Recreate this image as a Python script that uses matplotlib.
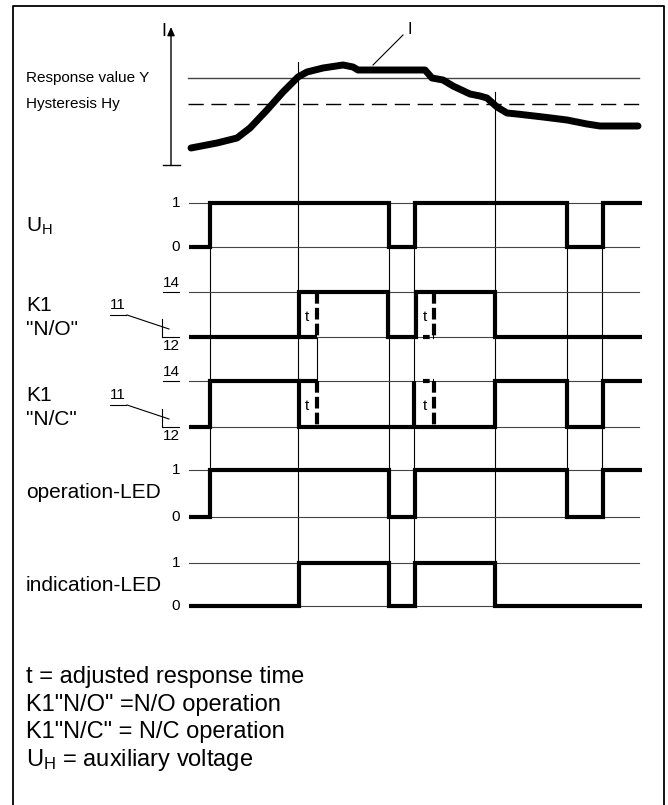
import matplotlib
matplotlib.use("Agg")
import matplotlib.pyplot as plt
from matplotlib import font_manager as fm

# ---------------- font ----------------
def has_font(name):
    try:
        fm.findfont(name, fallback_to_default=False)
        return True
    except Exception:
        return False

FONT = "Liberation Sans" if has_font("Liberation Sans") else "DejaVu Sans"
plt.rcParams["font.family"] = [FONT, "DejaVu Sans"]
plt.rcParams["mathtext.fontset"] = "custom"
plt.rcParams["mathtext.rm"] = FONT

# ---------------- data ----------------
# measured current I (time, value above baseline of the I-axis)
curve_t = [191, 217, 237, 250, 267, 283, 298, 307, 323, 343, 353, 358, 400, 425, 432,
           443, 453, 470, 480, 487, 497, 507, 517, 543, 567, 587, 600, 638]
curve_I = [17, 22, 27, 37, 55, 73, 88, 93, 97, 100, 98, 95, 95, 95, 87,
           85, 79, 71, 69, 67, 58, 52, 51, 48, 45, 41, 39, 39]
response_Y = 87
hysteresis_Hy = 61

t_start, t_end = 189, 642

# switching edges of each signal (value starts at 0 and toggles at each edge)
uh_edges = [210, 389, 415, 567, 603]
no_edges = [299, 388, 416, 495]
nc_edges = [210, 299, 495, 567, 603]
op_edges = [210, 389, 415, 567, 603]
ind_edges = [299, 389, 415, 495]

# adjusted response time t  (start, end of delay)
delay_1 = (299, 317)
delay_2 = (423, 434)
nc_pulse = 414

row_names = ["UH", "NO", "NC", "OP", "IND"]
level_hi = ["1", "14", "14", "1", "1"]
level_lo = ["0", "12", "12", "0", "0"]

legend_lines = ["t = adjusted response time",
                'K1"N/O" =N/O operation',
                'K1"N/C" = N/C operation',
                r"$\mathregular{U_H}$ = auxiliary voltage"]

# ---------------- layout ----------------
W, H = 668, 805
fig = plt.figure(figsize=(W / 100, H / 100), dpi=100)
ax = fig.add_axes([0, 0, 1, 1])
ax.set_xlim(0, W)
ax.set_ylim(H, 0)
ax.axis("off")

row_top = [203, 292, 381, 470, 563]
row_bot = [247, 337, 427, 517, 606]
I_base = 165
THICK = 3.0
THIN = 0.8
GRAY = "#444444"
lvl_x0, lvl_x1 = 189, 639


def ypos(row, v):
    return row_bot[row] - v * (row_bot[row] - row_top[row])


def step(edges):
    xs, vs = [t_start], [0]
    v = 0
    for e in edges:
        xs += [e, e]
        vs += [v, 1 - v]
        v = 1 - v
    xs.append(t_end)
    vs.append(v)
    return xs, vs


# border
ax.plot([13, 13, 664, 664], [H, 6, 6, H], color="black", lw=1.3, solid_capstyle="butt")

# ---------- top panel: current ----------
ax.annotate("", xy=(171, 27), xytext=(171, I_base),
            arrowprops=dict(arrowstyle="-|>,head_length=0.5,head_width=0.22",
                            color="black", lw=1.0, shrinkA=0, shrinkB=0))
ax.plot([163, 180], [I_base, I_base], color="black", lw=1.0)
ax.text(164, 32, "I", fontsize=13, ha="center", va="center")
ax.plot([188, 639], [I_base - response_Y] * 2, color=GRAY, lw=1.0)
ax.plot([188, 639], [I_base - hysteresis_Hy] * 2, color="black", lw=1.0,
        dashes=(11, 5.5))
ax.text(26, I_base - response_Y, "Response value Y", fontsize=11, va="center")
ax.text(26, I_base - hysteresis_Hy, "Hysteresis Hy", fontsize=11, va="center")
ax.plot(curve_t, [I_base - v for v in curve_I], color="black", lw=5.0,
        solid_capstyle="round", solid_joinstyle="round")
ax.plot([373, 403], [65, 35], color="black", lw=0.8)
ax.text(410, 29, "I", fontsize=12, ha="center", va="center")

# ---------- guide lines ----------
guides = [(210, row_bot[0], row_top[3]),
          (298, 62, row_top[4]),
          (317, row_bot[1], row_top[2]),
          (389, row_bot[0], row_top[4]),
          (414, row_bot[0], row_top[4]),
          (495, 92, row_top[4]),
          (567, row_bot[0], row_top[3]),
          (602, row_bot[0], row_top[3])]
for gx, g0, g1 in guides:
    ax.plot([gx, gx], [g0, g1], color="black", lw=THIN)

# ---------- level lines and labels ----------
for r in range(5):
    for y in (row_top[r], row_bot[r]):
        ax.plot([lvl_x0, lvl_x1], [y, y], color=GRAY, lw=THIN)
    if level_hi[r] == "1":
        ax.text(180, row_top[r], level_hi[r], fontsize=11, ha="right", va="center")
        ax.text(180, row_bot[r], level_lo[r], fontsize=11, ha="right", va="center")
    else:
        ax.text(171, row_top[r] - 2, level_hi[r], fontsize=11, ha="center", va="bottom")
        ax.plot([163, 179], [row_top[r], row_top[r]], color="black", lw=0.8)
        ax.text(171, row_bot[r] + 2, level_lo[r], fontsize=11, ha="center", va="top")
        ax.plot([163, 179], [row_bot[r], row_bot[r]], color="black", lw=0.8)
        # terminal 11 with switch lever
        ym = row_bot[r] - 22
        ax.text(118, ym - 3, "11", fontsize=11, ha="center", va="bottom")
        ax.plot([110, 126], [ym, ym], color="black", lw=0.8)
        ax.plot([127, 169], [ym, ym + 14], color="black", lw=0.8)
        ax.plot([162, 162], [ym + 4, row_bot[r]], color="black", lw=0.8)

# ---------- signals ----------
for r, edges in enumerate([uh_edges, no_edges, nc_edges, op_edges, ind_edges]):
    xs, vs = step(edges)
    ax.plot(xs, [ypos(r, v) for v in vs], color="black", lw=THICK,
            solid_joinstyle="miter", solid_capstyle="butt")

DASH = (2.8, 1.0)
# N/O first delay
ax.plot([delay_1[0], delay_1[1]], [ypos(1, 0)] * 2, color="black", lw=THICK, solid_capstyle="butt")
ax.plot([delay_1[1], delay_1[1]], [ypos(1, 1), ypos(1, 0)], color="black", lw=THICK, dashes=DASH)
# N/C first delay
ax.plot([delay_1[0], delay_1[1]], [ypos(2, 1)] * 2, color="black", lw=THICK, solid_capstyle="butt")
ax.plot([delay_1[1], delay_1[1]], [ypos(2, 1), ypos(2, 0)], color="black", lw=THICK, dashes=DASH)
# N/O second delay
ax.plot([delay_2[1], delay_2[1]], [ypos(1, 1), ypos(1, 0)], color="black", lw=THICK, dashes=DASH)
ax.plot([delay_2[0], delay_2[1]], [ypos(1, 0)] * 2, color="black", lw=THICK, dashes=(1.6, 0.8))
# N/C second delay
ax.plot([nc_pulse, nc_pulse], [ypos(2, 0), ypos(2, 1)], color="black", lw=THICK, solid_capstyle="butt")
ax.plot([delay_2[0], delay_2[1]], [ypos(2, 1)] * 2, color="black", lw=THICK, dashes=(1.6, 0.8))
ax.plot([delay_2[1], delay_2[1]], [ypos(2, 1), ypos(2, 0)], color="black", lw=THICK, dashes=DASH)

for r in (1, 2):
    ymid = (row_top[r] + row_bot[r]) / 2 + 2
    ax.text(307, ymid, "t", fontsize=11, ha="center", va="center")
    ax.text(425, ymid, "t", fontsize=11, ha="center", va="center")

# ---------- row labels ----------
LBL = 15
ax.text(26, 226, r"$\mathregular{U_H}$", fontsize=LBL, va="center")
ax.text(26, 305, "K1", fontsize=LBL, va="center")
ax.text(26, 329, '"N/O"', fontsize=LBL, va="center")
ax.text(26, 395, "K1", fontsize=LBL, va="center")
ax.text(26, 419, '"N/C"', fontsize=LBL, va="center")
ax.text(26, 492, "operation-LED", fontsize=LBL, va="center")
ax.text(26, 585, "indication-LED", fontsize=LBL, va="center")

# ---------- legend ----------
for i, s in enumerate(legend_lines):
    ax.text(26, 677 + i * 27.7, s, fontsize=17, va="center")

fig.savefig("out.png", dpi=100)
